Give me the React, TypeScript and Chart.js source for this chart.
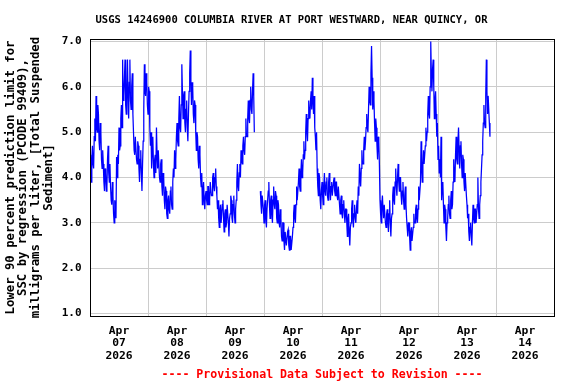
import React, { useEffect, useRef } from "react";
import { Chart, registerables } from "chart.js";

Chart.register(...registerables);

const TITLE = "USGS 14246900 COLUMBIA RIVER AT PORT WESTWARD, NEAR QUINCY, OR";
const Y_TITLE = [
  "Lower 90 percent prediction limit for",
  "SSC by regression (PCODE 99409),",
  "milligrams per liter, [Total Suspended",
  "Sediment]",
];
const FOOTNOTE = "---- Provisional Data Subject to Revision ----";
const MONTH = "Apr";
const YEAR = "2026";
const DAYS = ["07", "08", "09", "10", "11", "12", "13", "14"];
const Y_TICKS = [1, 2, 3, 4, 5, 6, 7];
const STEP_HOURS = 0.25;

// 15-minute values, each day starting at 00:00 (one row = 2 hours)
const apr07 = [
  4.5, 4.1, 3.9, 4.4, 4.7, 4.3, 4.2, 4.9,
  5.3, 4.8, 5.8, 5.1, 5.0, 5.6, 5.4, 4.8,
  4.6, 5.2, 5.0, 4.4, 4.2, 4.6, 4.3, 3.9,
  3.7, 4.2, 4.1, 3.7, 3.8, 4.4, 4.7, 4.1,
  3.9, 4.3, 3.8, 3.5, 3.4, 3.9, 3.6, 3.2,
  3.0, 3.5, 3.3, 3.1, 4.45, 4.0, 4.5, 4.3,
  5.1, 4.6, 4.7, 5.3, 5.6, 5.1, 6.6, 5.7,
  5.8, 6.2, 6.6, 5.6, 5.4, 6.0, 6.6, 5.8,
  5.3, 6.1, 6.6, 5.7, 5.5, 6.0, 6.3, 5.4,
  5.0, 4.6, 4.5, 4.9, 4.9, 4.4, 4.3, 4.8,
  4.7, 4.2, 3.9, 4.4, 4.6, 4.1, 3.7, 4.3,
  4.8, 5.5, 6.5, 5.9, 5.8, 6.3, 6.1, 5.6,
];
const apr08 = [
  5.4, 6.0, 5.9, 5.1, 4.7, 5.0, 4.2, 4.6,
  4.9, 4.3, 4.0, 4.4, 4.5, 4.1, 5.1, 4.5,
  4.2, 4.6, 4.6, 4.0, 3.9, 4.3, 4.4, 3.8,
  3.6, 4.1, 4.0, 3.5, 3.3, 3.8, 3.7, 3.2,
  3.1, 3.5, 3.6, 3.3, 3.2, 3.7, 3.8, 3.4,
  3.3, 3.9, 4.2, 4.0, 4.6, 4.2, 4.4, 4.9,
  5.2, 4.8, 4.7, 5.3, 5.8, 5.1, 5.0, 5.6,
  6.5, 5.9, 5.3, 5.8, 5.9, 5.2, 5.0, 5.5,
  5.7, 5.1, 4.8, 5.4, 5.9, 6.3, 6.8, 6.1,
  5.6, 6.1, 6.0, 5.4, 5.2, 5.7, 5.6, 5.0,
  4.6, 5.0, 4.9, 4.4, 4.2, 4.7, 4.5, 4.0,
  3.8, 4.1, 3.4, 3.7, 3.9, 3.5, 3.3, 3.6,
];
const apr09 = [
  3.7, 3.5, 3.4, 3.8, 3.8, 3.4, 3.5, 3.9,
  3.9, 3.6, 3.6, 4.0, 4.1, 3.8, 3.7, 4.0,
  4.2, 3.8, 3.6, 3.3, 3.5, 3.1, 2.9, 3.3,
  3.4, 3.0, 3.0, 3.4, 3.5, 3.1, 2.8, 3.2,
  3.3, 2.9, 3.0, 3.4, 3.4, 3.0, 2.7, 3.1,
  3.2, 3.6, 3.5, 3.1, 3.0, 3.4, 3.6, 3.2,
  3.0, 3.3, 3.5, 3.9, 4.3, 3.8, 3.7, 4.1,
  4.3, 4.0, 4.6, 4.4, 4.3, 4.7, 4.9, 4.6,
  4.5, 4.9, 5.3, 4.9, 4.9, 5.3, 5.7, 5.3,
  5.2, 5.7, 6.0, 5.5, 5.4, 5.9, 6.3, 5.8,
  5.0, null, null, null, null, null, null, null,
  null, null, 3.7, 3.4, 3.2, 3.6, 3.6, 3.3,
];
const apr10 = [
  3.0, 3.4, 3.5, 3.1, 2.9, 3.3, 3.3, 3.7,
  3.9, 3.4, 3.1, 3.5, 3.6, 3.2, 3.0, 3.5,
  3.8, 3.4, 3.3, 3.7, 3.6, 3.1, 3.0, 3.5,
  3.4, 3.0, 2.9, 3.3, 3.1, 2.7, 2.6, 3.0,
  3.0, 2.6, 2.4, 2.8, 2.8, 2.5, 2.5, 2.8,
  2.85, 2.5, 2.4, 2.7, 2.7, 2.4, 2.4, 2.7,
  2.9, 3.2, 3.4, 3.1, 3.0, 3.4, 3.8, 3.5,
  3.5, 3.9, 4.2, 3.8, 3.7, 4.1, 4.4, 4.0,
  4.1, 4.5, 4.8, 4.4, 4.6, 5.0, 5.4, 5.0,
  4.8, 5.3, 5.7, 5.4, 5.3, 5.7, 5.9, 5.5,
  6.2, 5.7, 5.4, 5.8, 5.1, 4.9, 4.6, 5.0,
  4.2, 3.8, 3.6, 4.1, 4.0, 3.5, 3.3, 3.7,
];
const apr11 = [
  3.9, 3.6, 3.4, 3.8, 4.1, 3.7, 3.6, 3.9,
  4.0, 3.6, 3.5, 3.9, 4.1, 3.7, 3.5, 3.8,
  3.9, 3.6, 3.6, 3.9, 4.0, 3.7, 3.6, 3.9,
  3.9, 3.6, 3.5, 3.8, 3.8, 3.4, 3.2, 3.5,
  3.6, 3.2, 3.1, 3.4, 3.5, 3.2, 3.0, 3.3,
  3.3, 3.0, 2.7, 3.1, 3.2, 2.8, 2.5, 2.9,
  3.0, 3.3, 3.5, 3.1, 2.9, 3.2, 3.4, 3.1,
  3.0, 3.3, 3.5, 3.2, 3.8, 3.6, 4.3, 4.0,
  3.8, 4.2, 4.6, 4.3, 4.3, 4.6, 4.9, 4.6,
  4.8, 5.1, 5.4, 5.1, 5.0, 5.5, 6.0, 5.7,
  5.6, 6.3, 6.9, 6.2, 5.5, 5.9, 5.7, 5.2,
  4.8, 5.3, 5.1, 4.7, 4.4, 4.9, 4.8, 4.3,
];
const apr12 = [
  3.5, 3.2, 3.0, 3.4, 3.6, 3.3, 3.1, 3.4,
  3.4, 3.0, 2.9, 3.2, 3.3, 3.0, 2.8, 3.2,
  3.5, 3.0, 2.7, 3.1, 3.2, 3.6, 3.8, 3.5,
  3.4, 3.9, 4.2, 3.8, 3.6, 4.0, 4.3, 3.9,
  3.7, 4.0, 4.0, 3.6, 3.4, 3.7, 3.9, 3.5,
  3.3, 3.6, 3.8, 3.4, 3.1, 2.9, 2.7, 3.0,
  3.0, 2.7, 2.4, 2.8, 2.9, 2.6, 2.6, 2.9,
  3.2, 3.0, 3.0, 3.3, 3.4, 3.1, 3.0, 3.3,
  3.8, 3.5, 3.5, 3.9, 4.8, 4.2, 3.9, 4.3,
  4.6, 4.3, 4.3, 4.7, 5.1, 4.8, 5.0, 5.4,
  5.8, 5.4, 5.3, 6.0, 7.0, 6.3, 5.9, 6.4,
  6.6, 6.0, 5.3, 5.7, 5.9, 5.4, 4.9, 5.2,
];
const apr13 = [
  4.4, 4.7, 4.1, 4.4, 4.0, 4.9, 3.5, 3.8,
  3.9, 3.4, 3.0, 3.4, 3.3, 2.9, 2.6, 3.0,
  3.1, 3.4, 3.6, 3.2, 3.1, 3.5, 3.7, 3.3,
  3.4, 3.9, 4.4, 4.0, 3.9, 4.5, 4.9, 4.4,
  4.3, 4.8, 5.1, 4.6, 4.2, 4.7, 4.8, 4.3,
  4.0, 4.5, 4.4, 3.9, 3.7, 4.1, 4.1, 3.6,
  3.4, 3.1, 3.2, 2.8, 2.6, 2.9, 3.0, 2.7,
  2.5, 3.0, 3.4, 3.1, 3.0, 3.3, 3.3, 3.0,
  3.0, 3.4, 4.0, 3.3, 3.1, 3.4, 3.6, 3.9,
  4.2, 4.5, 4.8, 5.2, 5.6, 5.2, 5.1, 5.8,
  6.6, 5.9, 5.4, 5.8, 5.8, 5.2, 4.9,
];

const DAY_SERIES = [apr07, apr08, apr09, apr10, apr11, apr12, apr13];

const FONT = "'DejaVu Sans Mono', monospace";

const framePlugin = {
  id: "frame",
  afterDraw(chart: any) {
    const { ctx, chartArea: a } = chart;
    ctx.save();
    ctx.strokeStyle = "#000";
    ctx.lineWidth = 1;
    ctx.strokeRect(a.left + 0.5, a.top + 0.5, a.right - a.left, a.bottom - a.top);
    ctx.restore();
  },
};

export default function App() {
  const ref = useRef<HTMLCanvasElement>(null);

  useEffect(() => {
    const canvas = ref.current;
    if (!canvas) return;
    const points: { x: number; y: number | null }[] = [];
    DAY_SERIES.forEach((day, d) => {
      day.forEach((v, i) => {
        points.push({ x: d * 24 + i * STEP_HOURS, y: v });
      });
    });

    const chart = new Chart(canvas, {
      type: "line",
      data: {
        datasets: [
          {
            data: points as any,
            borderColor: "#0000ff",
            borderWidth: 1.25,
            pointRadius: 0,
            tension: 0,
            spanGaps: false,
            xAxisID: "x",
            yAxisID: "y",
          },
        ],
      },
      options: {
        animation: false,
        responsive: false,
        devicePixelRatio: 1,
        layout: { padding: { left: 7, right: 0, top: 0, bottom: 0 } },
        plugins: {
          legend: { display: false },
          tooltip: { enabled: false },
          title: {
            display: true,
            text: TITLE,
            color: "#000",
            font: { family: FONT, size: 10.5, weight: "bold", lineHeight: 1.2 },
            padding: { top: 14.2, bottom: 12.2 },
          },
        },
        scales: {
          x: {
            type: "linear",
            position: "bottom",
            min: 0,
            max: DAYS.length * 24,
            afterBuildTicks: (s: any) => {
              s.ticks = DAYS.map((_, i) => ({ value: i * 24 + 12 }));
            },
            ticks: {
              autoSkip: false,
              maxRotation: 0,
              minRotation: 0,
              padding: 8.5,
              color: "#000",
              font: { family: FONT, size: 11.3, weight: "bold", lineHeight: "12.5px" },
              callback: (v: any) => {
                const idx = Math.round((Number(v) - 12) / 24);
                return [MONTH, DAYS[idx], YEAR];
              },
            },
            grid: { display: false, drawTicks: false },
            border: { display: false },
            title: {
              display: true,
              text: FOOTNOTE,
              color: "#ff0000",
              font: { family: FONT, size: 11.6, weight: "bold", lineHeight: 1.2 },
              padding: { top: 0, bottom: 2 },
            },
            afterFit: (s: any) => {
              s.height = 68;
              s.paddingLeft = 0;
              s.paddingRight = 0;
            },
          },
          xg: {
            type: "linear",
            position: "top",
            min: 0,
            max: DAYS.length * 24,
            afterBuildTicks: (s: any) => {
              s.ticks = DAYS.map((_, i) => ({ value: i * 24 }));
            },
            ticks: { display: false },
            grid: { color: "#cccccc", drawTicks: false, lineWidth: 1 },
            border: { display: false },
            afterFit: (s: any) => {
              s.height = 0;
              s.paddingLeft = 0;
              s.paddingRight = 0;
            },
          },
          y: {
            type: "linear",
            position: "left",
            min: 0.945,
            max: 7.055,
            afterBuildTicks: (s: any) => {
              s.ticks = Y_TICKS.map((v) => ({ value: v }));
            },
            ticks: {
              padding: 8.5,
              color: "#000",
              font: { family: FONT, size: 11, weight: "bold" },
              callback: (v: any) => Number(v).toFixed(1),
            },
            grid: { color: "#cccccc", drawTicks: false, lineWidth: 1 },
            border: { display: false },
            title: {
              display: true,
              text: Y_TITLE,
              color: "#000",
              font: { family: FONT, size: 12.3, weight: "bold", lineHeight: "12.8px" },
              padding: { top: -3, bottom: 0 },
            },
            afterFit: (s: any) => {
              s.width = 83;
              s.paddingTop = 0;
              s.paddingBottom = 0;
            },
          },
          yr: {
            type: "linear",
            position: "right",
            display: true,
            ticks: { display: false },
            grid: { display: false, drawTicks: false },
            border: { display: false },
            afterFit: (s: any) => {
              s.width = 22;
              s.paddingTop = 0;
              s.paddingBottom = 0;
            },
          },
        },
      } as any,
      plugins: [framePlugin],
    });
    return () => chart.destroy();
  }, []);

  return (
    <div style={{ position: "absolute", left: 0, top: 0, width: 576, height: 384, background: "#fff" }}>
      <canvas ref={ref} width={576} height={384} style={{ display: "block", width: 576, height: 384 }} />
    </div>
  );
}
